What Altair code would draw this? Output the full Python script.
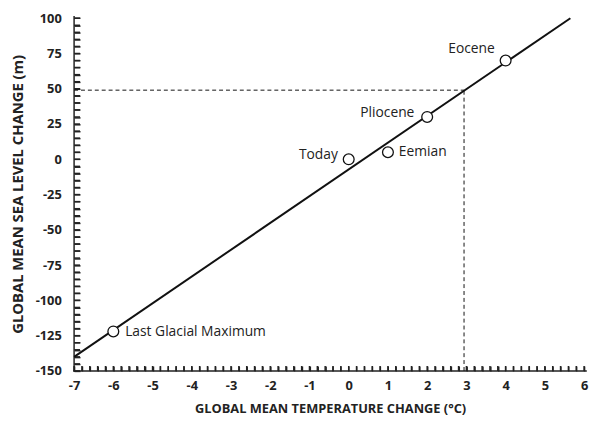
import altair as alt
import pandas as pd

# ---- data ----
names = ["Last Glacial Maximum", "Today", "Eemian", "Pliocene", "Eocene"]
temp = [-6.0, 0.0, 1.0, 2.0, 4.0]
sea = [-122, 0, 5, 30, 70]

fit_x = [-7.0, 5.65]
fit_y = [-140.0, 100.0]

proj_x = 2.94
proj_y = 49.0

x_tick_vals = [round(-7 + 0.2 * i, 1) for i in range(66)]
y_tick_vals = [-150 + 5 * i for i in range(51)]

W, H = 519, 359
XD = [-7, 6.05]
YD = [-150, 101]
FONT = "Open Sans"
AX = "#222222"

xs = alt.Scale(domain=XD, nice=False, zero=False)
ys = alt.Scale(domain=YD, nice=False, zero=False)

xaxis = alt.Axis(values=x_tick_vals, ticks=True, tickSize=5, tickWidth=1.5, tickColor=AX,
                 tickOpacity=1, offset=-5, domain=False, grid=False, labelPadding=9,
                 labelExpr="abs(datum.value - round(datum.value)) < 0.001 ? '' + round(datum.value) : ''",
                 labelOverlap=False, labelFlush=False,
                 title="GLOBAL MEAN TEMPERATURE CHANGE (°C)", titlePadding=10,
                 titleFontSize=13)
yaxis = alt.Axis(values=y_tick_vals, ticks=True, tickSize=6, tickWidth=1.5, tickColor=AX,
                 tickOpacity=1, offset=-6, domain=False, grid=False, labelPadding=13,
                 labelExpr="datum.value % 25 == 0 ? '' + datum.value : ''",
                 labelOverlap=False, labelFlush=False,
                 title="GLOBAL MEAN SEA LEVEL CHANGE (m)", titlePadding=10,
                 titleFontSize=15)


def X(f):
    return alt.X(f, scale=xs, axis=xaxis)


def Y(f):
    return alt.Y(f, scale=ys, axis=yaxis)


# tick lengths in data units (5 px / 6 px), for the drawn inner ticks
x_tick_len = 5 * (YD[1] - YD[0]) / H
y_tick_len = 6 * (XD[1] - XD[0]) / W

pts = pd.DataFrame({"name": names, "t": temp, "s": sea})
fit = pd.DataFrame({"t": fit_x, "s": fit_y})
proj = pd.DataFrame({"t0": [XD[0]], "t": [proj_x], "s0": [YD[0]], "s": [proj_y]})
frame = pd.DataFrame({"x0": [XD[0]], "x1": [XD[1]], "y0": [YD[0]], "y1": [YD[1]]})
xmin_df = pd.DataFrame({"tx": x_tick_vals, "sa": [YD[0]] * len(x_tick_vals),
                        "sb": [YD[0] + x_tick_len] * len(x_tick_vals)})
ymin_df = pd.DataFrame({"sy": y_tick_vals, "ta": [XD[0]] * len(y_tick_vals),
                        "tb": [XD[0] + y_tick_len] * len(y_tick_vals)})

xt = alt.Chart(xmin_df).mark_rule(color=AX, strokeWidth=1.5, opacity=1).encode(
    x=X("tx:Q"), y=Y("sa:Q"), y2="sb:Q")
yt = alt.Chart(ymin_df).mark_rule(color=AX, strokeWidth=1.5, opacity=1).encode(
    y=Y("sy:Q"), x=X("ta:Q"), x2="tb:Q")

xdom = alt.Chart(frame).mark_rule(color=AX, strokeWidth=1.5, strokeCap="square").encode(
    x=X("x0:Q"), x2="x1:Q", y=Y("y0:Q"))
ydom = alt.Chart(frame).mark_rule(color=AX, strokeWidth=1.5, strokeCap="square").encode(
    x=X("x0:Q"), y=Y("y0:Q"), y2="y1:Q")

hdash = alt.Chart(proj).mark_rule(color="#111", strokeWidth=1, strokeDash=[4, 3]).encode(
    x=X("t0:Q"), x2="t:Q", y=Y("s:Q"))
vdash = alt.Chart(proj).mark_rule(color="#111", strokeWidth=1, strokeDash=[4, 3]).encode(
    x=X("t:Q"), y=Y("s0:Q"), y2="s:Q")

line = alt.Chart(fit).mark_line(color="#111", strokeWidth=2).encode(
    x=X("t:Q"), y=Y("s:Q"))

circles = alt.Chart(pts).mark_point(shape="circle", filled=True, fill="white", stroke="#111",
                                    strokeWidth=1.3, size=120, opacity=1).encode(
    x=X("t:Q"), y=Y("s:Q"))

label_style = {
    "Last Glacial Maximum": dict(align="left", dx=12, dy=1),
    "Today": dict(align="right", dx=-11, dy=-4),
    "Eemian": dict(align="left", dx=11, dy=0),
    "Pliocene": dict(align="right", dx=-13, dy=-4),
    "Eocene": dict(align="right", dx=-11, dy=-12),
}
labels = []
for n, st in label_style.items():
    labels.append(
        alt.Chart(pts).transform_filter(alt.datum.name == n).mark_text(
            font=FONT, fontSize=14, color="#222", baseline="middle", **st).encode(
            x=X("t:Q"), y=Y("s:Q"), text="name:N"))

chart = alt.layer(xt, yt, xdom, ydom, hdash, vdash, line, circles, *labels).properties(
    width=W, height=H,
    autosize=alt.AutoSizeParams(type="none"),
    padding={"left": 67, "top": 6, "right": 4, "bottom": 60},
).configure_view(stroke=None).configure_axis(
    labelFont=FONT, labelFontSize=13, labelFontWeight="bold", labelColor="#222",
    titleFont=FONT, titleFontWeight="bold", titleColor="#222", labelOverlap=False,
)

chart.save("out.html", embed_options={"renderer": "svg", "actions": False})
